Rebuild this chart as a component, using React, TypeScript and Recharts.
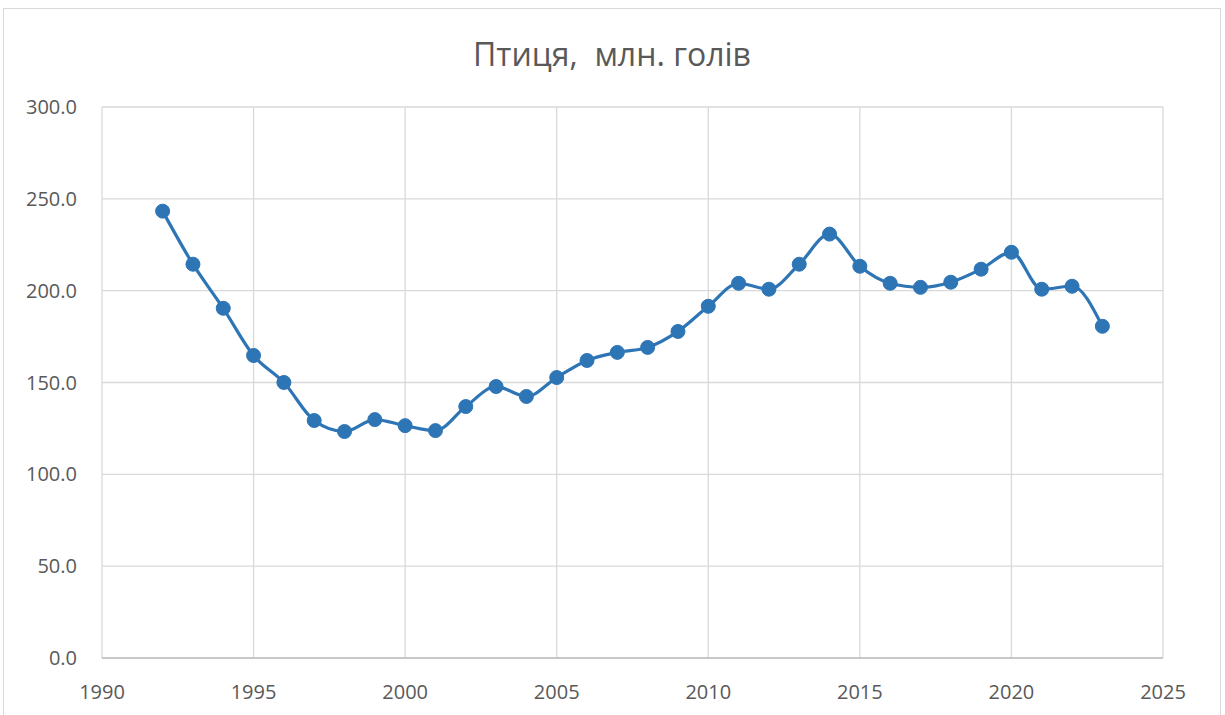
import { LineChart, Line, XAxis, YAxis, CartesianGrid } from 'recharts';

// Птиця, млн. голів — поголів'я за роками
const years = [
  1992, 1993, 1994, 1995, 1996, 1997, 1998, 1999, 2000, 2001, 2002, 2003, 2004, 2005, 2006, 2007,
  2008, 2009, 2010, 2011, 2012, 2013, 2014, 2015, 2016, 2017, 2018, 2019, 2020, 2021, 2022, 2023,
];
const poultry = [
  243.3, 214.4, 190.4, 164.7, 150.0, 129.3, 123.3, 129.8, 126.5, 123.8, 136.9, 147.8, 142.4, 152.7,
  162.0, 166.4, 169.1, 177.8, 191.5, 204.0, 200.8, 214.4, 230.8, 213.3, 204.0, 201.8, 204.6, 211.7,
  220.9, 200.8, 202.4, 180.6,
];
const xTicks = [1990, 1995, 2000, 2005, 2010, 2015, 2020, 2025];
const yTicks = [0, 50, 100, 150, 200, 250, 300];

const data = years.map((year, i) => ({ year, value: poultry[i] }));

const FONT = '"Liberation Sans Narrow", "Open Sans", "Liberation Sans", sans-serif';
const TEXT = '#595959';

export default function App() {
  return (
    <div
      style={{
        position: 'absolute',
        left: 3,
        top: 8,
        width: 1218,
        height: 720,
        border: '1px solid #d9d9d9',
        background: '#fff',
        boxSizing: 'border-box',
        fontFamily: FONT,
      }}
    >
      <div
        style={{
          position: 'absolute',
          top: 23,
          left: 0,
          width: '100%',
          textAlign: 'center',
          fontSize: 32,
          color: TEXT,
          whiteSpace: 'pre',
        }}
      >
        {'Птиця,  млн. голів'}
      </div>
      <LineChart
        width={1216}
        height={707}
        data={data}
        margin={{ top: 98, right: 57, bottom: 0, left: 0 }}
      >
        <CartesianGrid stroke="#d9d9d9" strokeWidth={1.3} />
        <XAxis
          dataKey="year"
          type="number"
          domain={[1990, 2025]}
          ticks={xTicks}
          height={58}
          tickLine={false}
          axisLine={{ stroke: '#bfbfbf', strokeWidth: 1.3 }}
          tickMargin={21}
          tick={{ fill: TEXT, fontSize: 20, fontFamily: FONT }}
        />
        <YAxis
          type="number"
          domain={[0, 300]}
          ticks={yTicks}
          width={98}
          tickLine={false}
          axisLine={false}
          tickMargin={19}
          tickFormatter={(v: number) => v.toFixed(1)}
          tick={{ fill: TEXT, fontSize: 20, fontFamily: FONT }}
        />
        <Line
          type="monotone"
          dataKey="value"
          stroke="#2e75b6"
          strokeWidth={3.2}
          dot={{ r: 7, fill: '#2e75b6', stroke: '#2e75b6', strokeWidth: 1 }}
          activeDot={false}
          isAnimationActive={false}
        />
      </LineChart>
    </div>
  );
}
